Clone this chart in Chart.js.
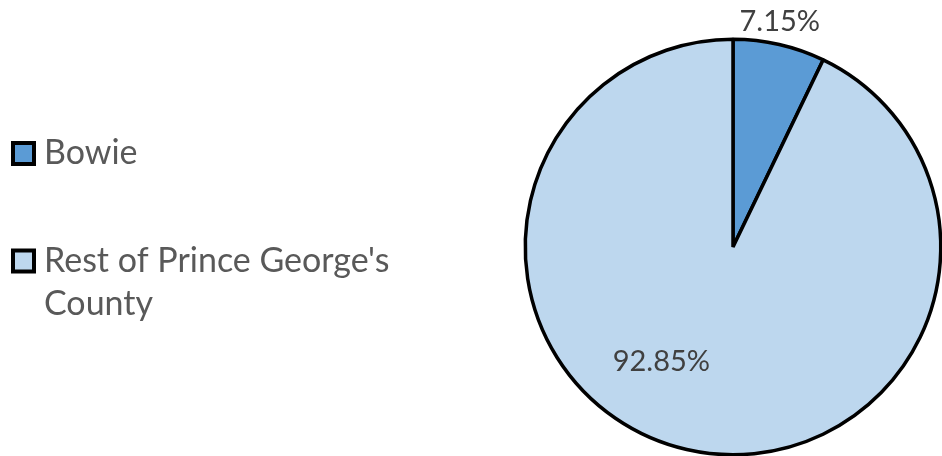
<!DOCTYPE html>
<html>
<head>
<meta charset="utf-8">
<script src="https://cdn.jsdelivr.net/npm/chart.js@4/dist/chart.umd.min.js"></script>
<style>
  html, body { margin: 0; padding: 0; background: #fff; overflow: hidden; }
  #wrap { width: 960px; height: 470px; }
</style>
</head>
<body>
<div id="wrap"><canvas id="myChart" width="960" height="470"></canvas></div>
<script>
const categories = ["Bowie", "Rest of Prince George's County"];
const legendLines = [["Bowie"], ["Rest of Prince George's", "County"]];
const shares = [7.15, 92.85];
const sliceColors = ["#5b9bd5", "#bdd7ee"];

const fontFamily = "Lato, 'Liberation Sans', sans-serif";

// label offsets relative to the pie radius (Excel best-fit placement)
const labelOffsets = [[0.225, -1.085], [-0.345, 0.55]];

const pieExtras = {
    id: 'pieExtras',
    afterDraw(chart) {
        const ctx = chart.ctx;
        const arcs = chart.getDatasetMeta(0).data;
        ctx.save();

        // percentage labels
        ctx.font = "29px " + fontFamily;
        ctx.fillStyle = "#404040";
        ctx.textAlign = "center";
        ctx.textBaseline = "middle";
        arcs.forEach((arc, i) => {
            const r = arc.outerRadius;
            const x = arc.x + labelOffsets[i][0] * r;
            const y = arc.y + labelOffsets[i][1] * r;
            ctx.fillText(shares[i].toFixed(2) + "%", x, y);
        });

        // legend on the left
        ctx.font = "34px " + fontFamily;
        ctx.textAlign = "left";
        const rowY = [153.5, 261];
        legendLines.forEach((lines, i) => {
            const y = rowY[i];
            ctx.fillStyle = sliceColors[i];
            ctx.fillRect(13, y - 10.5, 21, 21);
            ctx.lineWidth = 4;
            ctx.strokeStyle = "#000";
            ctx.strokeRect(13, y - 10.5, 21, 21);
            ctx.fillStyle = "#595959";
            lines.forEach((line, j) => {
                ctx.fillText(line, 44, y + j * 43);
            });
        });
        ctx.restore();
    }
};

const ctx = document.getElementById('myChart').getContext('2d');
new Chart(ctx, {
    type: 'pie',
    data: {
        labels: categories,
        datasets: [{
            data: shares,
            backgroundColor: sliceColors,
            borderColor: '#000',
            borderWidth: 3.5,
            borderAlign: 'center'
        }]
    },
    options: {
        responsive: false,
        animation: false,
        layout: {
            padding: { left: 523.5, right: 17.5, top: 37.5, bottom: 13.5 }
        },
        plugins: {
            legend: { display: false },
            tooltip: { enabled: false }
        }
    },
    plugins: [pieExtras]
});
</script>
</body>
</html>
